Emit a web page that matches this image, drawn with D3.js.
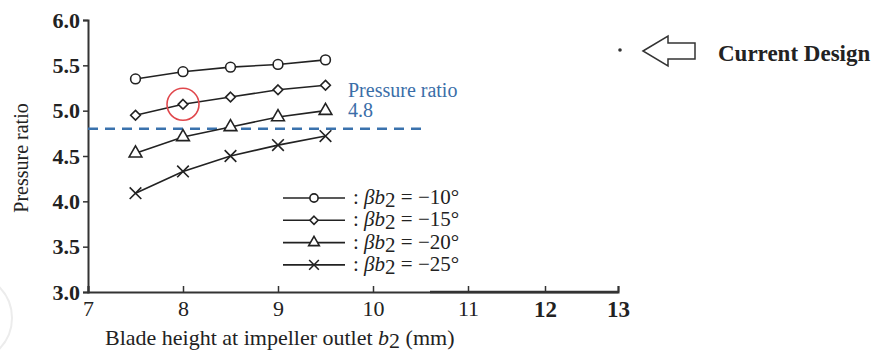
<!DOCTYPE html>
<html>
<head>
<meta charset="utf-8">
<script src="https://cdn.jsdelivr.net/npm/d3@7"></script>
<style>
  body { margin: 0; background: #fff; }
  svg text { font-family: "Liberation Serif", "DejaVu Serif", serif; }
</style>
</head>
<body>
<svg id="chart" width="875" height="361"></svg>
<script>
// blade height b2 (mm)
var bladeHeights = [7.5, 8, 8.5, 9, 9.5];
// pressure ratio for each blade angle
var beta10 = [5.35, 5.43, 5.48, 5.51, 5.56];
var beta15 = [4.95, 5.07, 5.15, 5.23, 5.28];
var beta20 = [4.53, 4.71, 4.82, 4.93, 5.00];
var beta25 = [4.09, 4.33, 4.50, 4.62, 4.72];
var seriesNames = ["\u221210\u00b0", "\u221215\u00b0", "\u221220\u00b0", "\u221225\u00b0"];
var xTicks = [7, 8, 9, 10, 11, 12, 13];
var yTicks = [3.0, 3.5, 4.0, 4.5, 5.0, 5.5, 6.0];
var targetRatio = 4.8;
var targetEnd = 10.55;
var currentDesign = {b2: 8, ratio: 5.07};

var series = [
  {name: seriesNames[0], values: beta10, symbol: d3.symbolCircle, size: 75},
  {name: seriesNames[1], values: beta15, symbol: d3.symbolDiamond2 || d3.symbolDiamond, size: 60},
  {name: seriesNames[2], values: beta20, symbol: d3.symbolTriangle, size: 70},
  {name: seriesNames[3], values: beta25, symbol: d3.symbolTimes || d3.symbolX, size: 90}
];

var svg = d3.select("#chart");

// x axis is not evenly spaced past 11 in the source figure
var x = d3.scaleLinear()
    .domain([7, 11, 12, 13])
    .range([88, 468, 545, 618]);

var y = d3.scaleLinear()
    .domain([3, 6])
    .range([292, 20]);

var axisColor = "#333";

// faint watermark arc at lower left
svg.append("path")
    .attr("d", d3.arc()({innerRadius: 44, outerRadius: 44, startAngle: 0, endAngle: Math.PI}))
    .attr("transform", "translate(-32,318)")
    .attr("fill", "none")
    .attr("stroke", "#ececec")
    .attr("stroke-width", 2);

// x axis
var xAxis = d3.axisBottom(x)
    .tickValues(xTicks)
    .tickSize(-6)
    .tickFormat(d3.format("d"));

var gx = svg.append("g")
    .attr("transform", "translate(0," + y(3) + ")")
    .call(xAxis);
gx.select(".domain").attr("stroke", axisColor).attr("stroke-width", 2);
gx.selectAll(".tick line").attr("stroke", axisColor).attr("stroke-width", 1.5);
gx.selectAll(".tick text")
    .attr("dy", "0.95em")
    .attr("fill", "#222")
    .style("font-size", function(d) { return d >= 12 ? "23px" : "22px"; })
    .style("font-weight", function(d) { return d >= 12 ? "bold" : "normal"; });
// heavier stroke on the extended part of the axis
svg.append("line")
    .attr("x1", x(10.6)).attr("x2", x(13))
    .attr("y1", y(3)).attr("y2", y(3))
    .attr("stroke", axisColor).attr("stroke-width", 2.6);

// y axis
var yAxis = d3.axisLeft(y)
    .tickValues(yTicks)
    .tickSize(5)
    .tickFormat(d3.format(".1f"));

var gy = svg.append("g")
    .attr("transform", "translate(" + x(7) + ",0)")
    .call(yAxis);
gy.select(".domain").attr("stroke", axisColor).attr("stroke-width", 2);
gy.selectAll(".tick line").attr("stroke", axisColor).attr("stroke-width", 1.5);
gy.selectAll(".tick text")
    .attr("x", -8)
    .attr("fill", "#222")
    .style("font-size", "22px")
    .style("font-weight", "bold");

// axis titles
svg.append("text")
    .attr("transform", "translate(28,158) rotate(-90)")
    .attr("text-anchor", "middle")
    .attr("fill", "#222")
    .style("font-size", "20px")
    .text("Pressure ratio");

var xt = svg.append("text")
    .attr("x", 105)
    .attr("y", 345)
    .attr("fill", "#222")
    .style("font-size", "22px");
xt.append("tspan").text("Blade height at impeller outlet  ");
xt.append("tspan").style("font-style", "italic").text("b");
xt.append("tspan").attr("dy", 3).text("2");
xt.append("tspan").attr("dy", -3).text("  (mm)");

// target pressure ratio line
svg.append("line")
    .attr("x1", x(7)).attr("x2", x(targetEnd))
    .attr("y1", y(targetRatio)).attr("y2", y(targetRatio))
    .attr("stroke", "#3a72ad")
    .attr("stroke-width", 2.5)
    .attr("stroke-dasharray", "10,7");

svg.append("text")
    .attr("x", 348).attr("y", 97)
    .attr("fill", "#3a6ea8")
    .style("font-size", "20px")
    .text("Pressure ratio");
svg.append("text")
    .attr("x", 348).attr("y", 117)
    .attr("fill", "#3a6ea8")
    .style("font-size", "20px")
    .text(d3.format(".1f")(targetRatio));

// series lines and markers
var line = d3.line()
    .x(function(d, i) { return x(bladeHeights[i]); })
    .y(function(d) { return y(d); });

var gs = svg.append("g")
    .selectAll("g")
    .data(series)
    .enter().append("g");

gs.append("path")
    .attr("d", function(s) { return line(s.values); })
    .attr("fill", "none")
    .attr("stroke", "#222")
    .attr("stroke-width", 1.6);

gs.each(function(s) {
  d3.select(this).selectAll(".pt")
      .data(s.values)
      .enter().append("path")
      .attr("class", "pt")
      .attr("transform", function(d, i) { return "translate(" + x(bladeHeights[i]) + "," + y(d) + ")"; })
      .attr("d", d3.symbol().type(s.symbol).size(s.size))
      .attr("fill", "#fff")
      .attr("stroke", "#222")
      .attr("stroke-width", 1.6);
});

// red circle around current design point
svg.append("circle")
    .attr("cx", x(currentDesign.b2))
    .attr("cy", y(currentDesign.ratio))
    .attr("r", 16)
    .attr("fill", "none")
    .attr("stroke", "#e0474c")
    .attr("stroke-width", 1.6);

// legend
var legend = svg.append("g")
    .selectAll("g")
    .data(series)
    .enter().append("g")
    .attr("transform", function(s, i) { return "translate(283," + (198 + i * 22.3) + ")"; });

legend.append("line")
    .attr("x1", 0).attr("x2", 62)
    .attr("stroke", "#222").attr("stroke-width", 1.6);
legend.append("path")
    .attr("transform", "translate(31,0)")
    .attr("d", function(s) { return d3.symbol().type(s.symbol).size(s.size * 0.7)(); })
    .attr("fill", "#fff")
    .attr("stroke", "#222")
    .attr("stroke-width", 1.6);

var lt = legend.append("text")
    .attr("x", 70)
    .attr("y", 6)
    .attr("fill", "#222")
    .style("font-size", "21px");
lt.append("tspan").text(": ");
lt.append("tspan").style("font-style", "italic").text("\u03b2b");
lt.append("tspan").attr("dy", 3).text("2");
lt.append("tspan").attr("dy", -3).text(" = ");
lt.append("tspan").text(function(s) { return s.name; });

// "Current Design" callout
svg.append("circle")
    .attr("cx", 620).attr("cy", 50).attr("r", 1.8)
    .attr("fill", "#333");
svg.append("path")
    .attr("d", "M643,51 L668,36 L668,43 L695,43 L695,59 L668,59 L668,66 Z")
    .attr("fill", "#fff")
    .attr("stroke", "#333")
    .attr("stroke-width", 1.5);
svg.append("text")
    .attr("x", 718).attr("y", 61)
    .attr("fill", "#222")
    .style("font-size", "23px")
    .style("font-weight", "bold")
    .text("Current Design");
</script>
</body>
</html>
